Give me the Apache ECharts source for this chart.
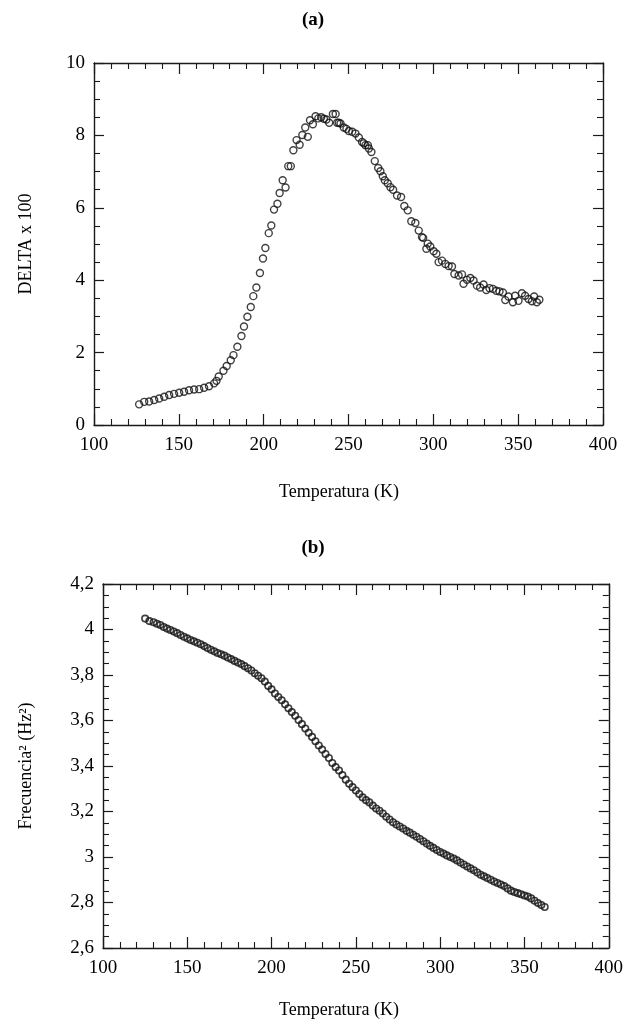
<!DOCTYPE html>
<html>
<head>
<meta charset="utf-8">
<script src="https://cdn.jsdelivr.net/npm/echarts@6/dist/echarts.min.js"></script>
<style>
html,body{margin:0;padding:0;background:#fff;}
#chart{width:626px;height:1022px;}
</style>
</head>
<body>
<div id="chart"></div>
<script>
// Panel (a): DELTA x 100 vs Temperatura (K)
var tempA = [126.6,129.6,132.5,135.5,138.4,141.4,144.3,147.2,150.2,153.1,156,159,162,164.9,167.8,170.8,172.2,173.5,176.3,178.2,180.6,182.2,184.5,186.9,188.4,190.4,192.4,193.9,195.7,197.8,199.6,201,203,204.5,206.1,208.1,209.4,211.2,212.9,214.5,216,217.5,219.4,221.2,222.8,224.5,226,227.3,229,230.6,232.2,233.9,235.5,237,238.6,240.8,242.4,243.3,244.3,245.3,247.2,248.8,250.2,252.2,254.1,256.1,258,259,260,261.4,262,263.5,265.5,267.5,268.8,270.2,271.4,273.1,274.7,276.3,278.6,281,282.9,284.9,287,289.4,291.4,293.3,294,295.9,296.7,298.2,300.2,301.8,303.1,305.1,307.1,309,311,312.4,314.9,316.9,317.8,319.8,321.8,323.7,325.7,327.6,329.6,331.2,333.1,335.1,337.1,339,341,342.4,344.3,346.9,348.2,350.2,352.2,354.1,356.1,358.1,359.4,361,362.5];
var deltaA = [0.57,0.64,0.65,0.69,0.73,0.78,0.83,0.86,0.89,0.92,0.96,0.98,0.99,1.03,1.07,1.15,1.22,1.34,1.50,1.63,1.79,1.93,2.16,2.46,2.72,2.99,3.26,3.56,3.80,4.20,4.60,4.89,5.30,5.51,5.95,6.11,6.41,6.76,6.56,7.15,7.15,7.59,7.87,7.74,8.01,8.22,7.96,8.42,8.31,8.53,8.47,8.50,8.46,8.44,8.35,8.59,8.59,8.35,8.35,8.33,8.22,8.18,8.12,8.10,8.05,7.94,7.82,7.78,7.73,7.73,7.64,7.54,7.29,7.10,7.01,6.87,6.76,6.68,6.57,6.50,6.34,6.30,6.05,5.93,5.63,5.58,5.37,5.19,5.17,4.87,5.01,4.93,4.80,4.73,4.50,4.54,4.45,4.39,4.38,4.17,4.13,4.16,3.90,4.01,4.06,3.99,3.85,3.80,3.88,3.73,3.78,3.76,3.71,3.69,3.66,3.45,3.55,3.39,3.57,3.43,3.64,3.57,3.48,3.42,3.55,3.39,3.46];

// Panel (b): Frecuencia^2 vs Temperatura (K)
var tempB = [125,127.5,130,132,134,136,138,140,142,144,146,148,150,152,154,156,158,160,162,164,166,168,170,172,174,176,178,180,182,184,186,188,190,192,194,196,198,200,202,204,206,208,210,212,214,216,218,220,222,224,226,228,230,232,234,236,238,240,242,244,246,248,250,252,254,256,258,260,262,264,266,268,270,272,274,276,278,280,282,284,286,288,290,292,294,296,298,300,302,304,306,308,310,312,314,316,318,320,322,324,326,328,330,332,334,336,338,340,342,344,346,348,350,352,354,356,358,360,362];
var freqB = [4.048,4.037,4.032,4.025,4.020,4.011,4.004,3.998,3.991,3.984,3.976,3.968,3.961,3.954,3.948,3.942,3.935,3.927,3.919,3.911,3.904,3.897,3.891,3.885,3.877,3.870,3.862,3.855,3.848,3.839,3.830,3.820,3.808,3.797,3.786,3.771,3.752,3.737,3.719,3.703,3.689,3.671,3.654,3.637,3.621,3.602,3.584,3.565,3.546,3.528,3.509,3.490,3.472,3.453,3.435,3.413,3.395,3.380,3.360,3.340,3.322,3.307,3.292,3.277,3.262,3.250,3.240,3.226,3.213,3.203,3.191,3.177,3.165,3.153,3.143,3.134,3.125,3.115,3.107,3.098,3.089,3.079,3.069,3.059,3.049,3.040,3.031,3.022,3.015,3.007,3.000,2.993,2.985,2.976,2.967,2.958,2.950,2.942,2.932,2.922,2.915,2.908,2.900,2.892,2.886,2.879,2.872,2.862,2.852,2.846,2.841,2.836,2.831,2.826,2.818,2.808,2.798,2.789,2.780];

var xName = 'Temperatura (K)';
var yNameA = 'DELTA x 100';
var yNameB = 'Frecuencia\u00B2 (Hz\u00B2)';
var titleA = '(a)';
var titleB = '(b)';

function zip(a, b) { return a.map(function (v, i) { return [v, b[i]]; }); }

var FONT = '"Liberation Serif", "Times New Roman", serif';
var INK = '#1a1a1a';

function xAx(grid, pos, showLabel) {
  return {
    type: 'value', gridIndex: grid, position: pos,
    min: 100, max: 400, interval: 50,
    axisLine: { show: true, onZero: false, lineStyle: { color: INK, width: 1.4 } },
    axisTick: { show: true, inside: true, length: 11, lineStyle: { color: INK, width: 1.2 } },
    minorTick: { show: true, splitNumber: 5, length: 6, lineStyle: { color: INK, width: 1.1 } },
    splitLine: { show: false },
    axisLabel: { show: showLabel, margin: 11, fontFamily: FONT, fontSize: 19, color: '#000' }
  };
}
function yAx(grid, pos, showLabel, min, max, interval, fmt) {
  return {
    type: 'value', gridIndex: grid, position: pos,
    min: min, max: max, interval: interval,
    axisLine: { show: true, onZero: false, lineStyle: { color: INK, width: 1.4 } },
    axisTick: { show: true, inside: true, length: 10, lineStyle: { color: INK, width: 1.2 } },
    minorTick: { show: true, splitNumber: 4, length: 6, lineStyle: { color: INK, width: 1.1 } },
    splitLine: { show: false },
    axisLabel: { show: showLabel, margin: 9, fontFamily: FONT, fontSize: 19, color: '#000', formatter: fmt }
  };
}

var fmtB = function (v) { return String(Math.round(v * 10) / 10).replace('.', ','); };
var fmtA = function (v) { return String(Math.round(v)); };

function label(text, x, y, size, bold, rot) {
  return {
    type: 'text', x: x, y: y, rotation: rot || 0,
    style: {
      text: text, x: 0, y: 0, align: 'center', verticalAlign: 'middle',
      textAlign: 'center', textVerticalAlign: 'middle',
      font: (bold ? 'bold ' : '') + size + 'px ' + FONT, fill: '#000'
    }
  };
}

var chart = echarts.init(document.getElementById('chart'), null, { renderer: 'canvas' });
chart.setOption({
  backgroundColor: '#fff',
  animation: false,
  grid: [
    { left: 94, top: 63, width: 509, height: 362 },
    { left: 103, top: 584, width: 509, height: 364 }
  ],
  xAxis: [
    xAx(0, 'bottom', true), xAx(0, 'top', false),
    xAx(1, 'bottom', true), xAx(1, 'top', false)
  ],
  yAxis: [
    yAx(0, 'left', true, 0, 10, 2, fmtA), yAx(0, 'right', false, 0, 10, 2, fmtA),
    yAx(1, 'left', true, 2.6, 4.2, 0.2, fmtB), yAx(1, 'right', false, 2.6, 4.2, 0.2, fmtB)
  ],
  series: [
    {
      type: 'scatter', xAxisIndex: 0, yAxisIndex: 0,
      data: zip(tempA, deltaA), symbol: 'circle', symbolSize: 7,
      itemStyle: { color: 'rgba(0,0,0,0)', borderColor: '#111', borderWidth: 1.4 }
    },
    {
      type: 'scatter', xAxisIndex: 2, yAxisIndex: 2,
      data: zip(tempB, freqB), symbol: 'circle', symbolSize: 6.5,
      itemStyle: { color: 'rgba(0,0,0,0)', borderColor: '#111', borderWidth: 1.6 }
    }
  ],
  graphic: [
    label(titleA, 313, 20, 19, true),
    label(titleB, 313, 548, 19, true),
    label(xName, 339, 492, 18, false),
    label(xName, 339, 1010, 18, false),
    label(yNameA, 26, 244, 18, false, Math.PI / 2),
    label(yNameB, 26, 766, 18, false, Math.PI / 2)
  ]
});
</script>
</body>
</html>
